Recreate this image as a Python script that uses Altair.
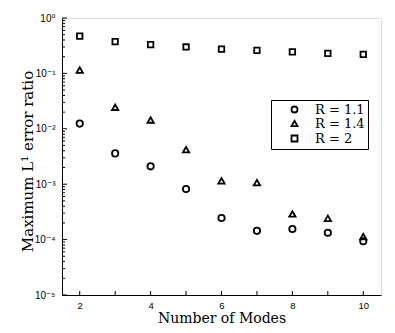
import altair as alt
import pandas as pd

modes = [2, 3, 4, 5, 6, 7, 8, 9, 10]
series_names = ["R = 1.1", "R = 1.4", "R = 2"]
err_r11 = [0.0124, 0.0036, 0.0021, 0.00082, 0.000245, 0.000144, 0.000155, 0.000133, 0.0000933]
err_r14 = [0.115, 0.0245, 0.0144, 0.0042, 0.00115, 0.00107, 0.00029, 0.000242, 0.000113]
err_r2 = [0.47, 0.374, 0.33, 0.30, 0.275, 0.26, 0.245, 0.23, 0.22]

y_major = [1e-5, 1e-4, 1e-3, 1e-2, 1e-1, 1.0]
y_minor = [k * m for m in [1e-5, 1e-4, 1e-3, 1e-2, 1e-1] for k in range(2, 10)]
x_ticks = modes

rows = []
for name, vals in zip(series_names, [err_r11, err_r14, err_r2]):
    for m, v in zip(modes, vals):
        rows.append({"mode": m, "err": v, "series": name})
df = pd.DataFrame(rows)

W, H = 319, 277
xscale = alt.Scale(domain=[1.5, 10.5], nice=False, zero=False)
yscale = alt.Scale(type="log", domain=[1e-5, 1], nice=False)

serif = "DejaVu Serif"
sans = "Liberation Sans, DejaVu Sans"

points = alt.Chart(df).mark_point(filled=False, strokeWidth=1.8, color="black", opacity=1).encode(
    x=alt.X("mode:Q", scale=xscale,
            axis=alt.Axis(values=x_ticks, tickSize=0, grid=False, labelFont=sans, labelFontSize=9.5,
                          labelColor="black", labelPadding=5, domainColor="black", labelFlush=False,
                          title="Number of Modes", titleFont=serif, titleFontSize=14,
                          titleFontWeight="normal", titleColor="black",
                          titleBaseline="alphabetic", titleY=27)),
    y=alt.Y("err:Q", scale=yscale,
            axis=alt.Axis(values=y_major, tickSize=0, grid=False, labelFont=sans, labelFontSize=10,
                          labelColor="black", labelPadding=7, domainColor="black",
                          labelFlush=False,
                          labelExpr="['10⁻⁵','10⁻⁴','10⁻³','10⁻²','10⁻¹','10⁰'][round(log(datum.value)/LN10)+5]",
                          title="Maximum L¹ error ratio", titleFont=serif, titleFontSize=15,
                          titleFontWeight="normal", titleColor="black",
                          titleAngle=-90, titleAlign="center", titleBaseline="bottom",
                          titleX=-27, titleY=143)),
    shape=alt.Shape("series:N", scale=alt.Scale(domain=series_names, range=["circle", "triangle-up", "square"]),
                    legend=alt.Legend(title=None, orient="none", legendX=209, legendY=82,
                                      strokeColor="black", fillColor="white", padding=3,
                                      symbolOffset=14, labelOffset=14, rowPadding=0,
                                      symbolSize=36, symbolStrokeWidth=1.8, symbolStrokeColor="black",
                                      symbolFillColor="white", symbolType="circle",
                                      labelFont=serif, labelFontSize=13, labelColor="black")),
    size=alt.condition(alt.datum.series == "R = 2", alt.value(30), alt.value(40)),
)

ymaj_df = pd.DataFrame({"v": y_major})
ymin_df = pd.DataFrame({"v": y_minor})
xt_df = pd.DataFrame({"m": x_ticks})

ymaj_ticks = alt.Chart(ymaj_df).mark_rule(color="black", strokeWidth=1).encode(
    y=alt.Y("v:Q", scale=yscale), x=alt.value(0), x2=alt.value(5))
ymin_ticks = alt.Chart(ymin_df).mark_rule(color="black", strokeWidth=1).encode(
    y=alt.Y("v:Q", scale=yscale), x=alt.value(0), x2=alt.value(3))
x_tick_marks = alt.Chart(xt_df).mark_rule(color="black", strokeWidth=1).encode(
    x=alt.X("m:Q", scale=xscale), y=alt.value(H), y2=alt.value(H - 4))

chart = alt.layer(ymaj_ticks, ymin_ticks, x_tick_marks, points).properties(
    width=W, height=H,
    autosize=alt.AutoSizeParams(type="none"),
    padding={"left": 54, "top": 10, "right": 5, "bottom": 30},
).configure_view(stroke=None).configure(background="white")

chart.save("out.html", embed_options={"renderer": "svg", "actions": False})
